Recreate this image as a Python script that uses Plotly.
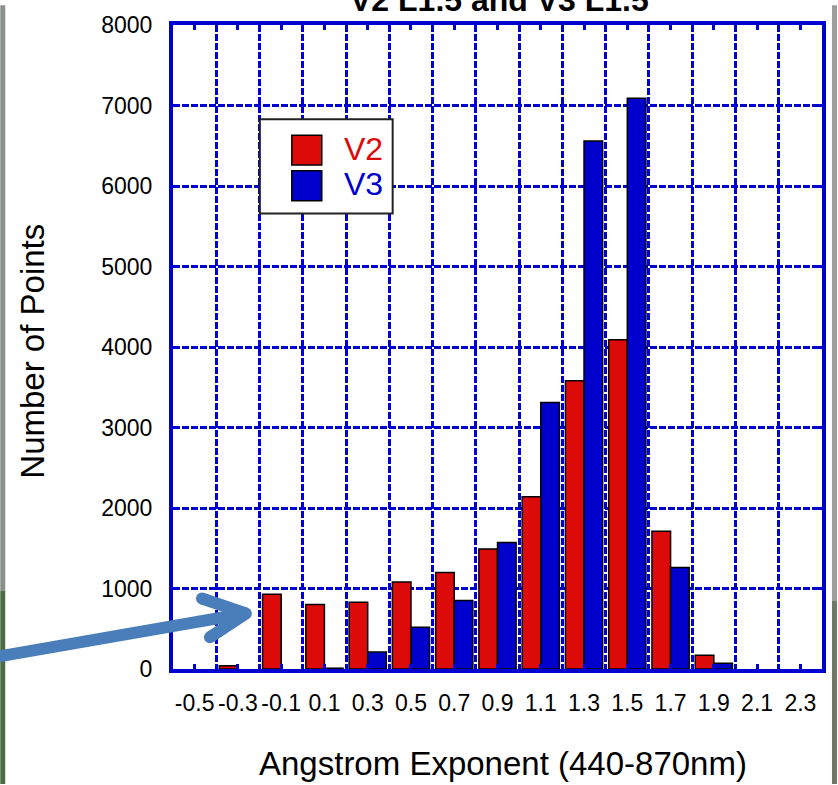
import plotly.graph_objects as go

# Angstrom exponent bins and point counts per version
categories = ["-0.5", "-0.3", "-0.1", "0.1", "0.3", "0.5", "0.7", "0.9",
              "1.1", "1.3", "1.5", "1.7", "1.9", "2.1", "2.3"]
series_names = ["V2", "V3"]
v2_counts = [0, 40, 930, 800, 830, 1080, 1200, 1490, 2140, 3580, 4090, 1710, 170, 0, 0]
v3_counts = [0, 0, 0, 10, 210, 520, 850, 1570, 3310, 6560, 7090, 1260, 70, 0, 0]
y_ticks = [0, 1000, 2000, 3000, 4000, 5000, 6000, 7000, 8000]

W, H = 838, 785
L, R, T, B = 173, 15, 20, 116
PW, PH = W - L - R, H - T - B

BLUE = "#0000d0"
RED = "#dd0a0a"
BARBLUE = "#0000cc"
ARROW = "#4a7ebb"
FONT = "Liberation Sans, Arial, sans-serif"


def px(x):
    return (x - L) / PW


def py(y):
    return (H - B - y) / PH


xs = list(range(len(categories)))

fig = go.Figure()
for name, vals, col in [(series_names[0], v2_counts, RED),
                        (series_names[1], v3_counts, BARBLUE)]:
    # empty bins get no outline so nothing is drawn on the baseline
    edge_w = [1.5 if v > 0 else 0 for v in vals]
    fig.add_trace(go.Bar(
        x=xs, y=vals, name=name,
        marker=dict(color=col, line=dict(color="black", width=edge_w)),
        showlegend=False,
    ))

fig.update_layout(
    width=W, height=H,
    margin=dict(l=L, r=R, t=T, b=B),
    paper_bgcolor="white", plot_bgcolor="white",
    barmode="group", bargap=0.14, bargroupgap=0,
    font=dict(family=FONT, color="black"),
)

fig.update_xaxes(
    range=[-0.5, len(categories) - 0.5],
    tickmode="array", tickvals=xs, ticktext=categories,
    ticks="inside", ticklen=5, tickwidth=3, tickcolor=BLUE,
    tickfont=dict(size=23, family=FONT, color="black"),
    ticklabelstandoff=10,
    showgrid=False, zeroline=False,
    showline=True, linecolor=BLUE, linewidth=4, mirror="ticks",
    minor=dict(tickmode="array", tickvals=[i + 0.5 for i in xs[:-1]],
               showgrid=True, gridcolor=BLUE, gridwidth=3,
               griddash="7px,2px", ticks=""),
)

fig.update_yaxes(
    range=[0, 8000],
    tickmode="array", tickvals=y_ticks, ticktext=[str(v) for v in y_ticks],
    ticks="inside", ticklen=7, tickwidth=3, tickcolor=BLUE,
    tickfont=dict(size=23, family=FONT, color="black"),
    ticklabelstandoff=12,
    showgrid=True, gridcolor=BLUE, gridwidth=3, griddash="7px,2px",
    zeroline=False,
    showline=True, linecolor=BLUE, linewidth=4, mirror="ticks",
)

shapes = []
# image edge strips
shapes += [
    dict(type="rect", xref="paper", yref="paper", x0=px(0), x1=px(5), y0=py(590), y1=py(0),
         fillcolor="#8c908a", line=dict(width=0), layer="above"),
    dict(type="rect", xref="paper", yref="paper", x0=px(0), x1=px(5), y0=py(785), y1=py(590),
         fillcolor="#4d6b45", line=dict(width=0), layer="above"),
    dict(type="rect", xref="paper", yref="paper", x0=px(833), x1=px(838), y0=py(600), y1=py(0),
         fillcolor="#9c9e9a", line=dict(width=0), layer="above"),
    dict(type="rect", xref="paper", yref="paper", x0=px(833), x1=px(838), y0=py(785), y1=py(600),
         fillcolor="#6e7869", line=dict(width=0), layer="above"),
]

# legend box with swatches
shapes += [
    dict(type="rect", xref="paper", yref="paper", x0=px(260), x1=px(393), y0=py(210), y1=py(115),
         fillcolor="white", line=dict(color="#222222", width=2), layer="above"),
    dict(type="rect", xref="paper", yref="paper", x0=px(292), x1=px(322), y0=py(161), y1=py(131),
         fillcolor=RED, line=dict(color="black", width=1.5), layer="above"),
    dict(type="rect", xref="paper", yref="paper", x0=px(292), x1=px(322), y0=py(197), y1=py(167),
         fillcolor=BARBLUE, line=dict(color="black", width=1.5), layer="above"),
]

# pointer arrow
tip = (246, 613)
for (x0, y0) in [(-5, 657), (202, 598), (210, 637)]:
    shapes.append(dict(type="line", xref="paper", yref="paper",
                       x0=px(x0), y0=py(y0), x1=px(tip[0]), y1=py(tip[1]),
                       line=dict(color=ARROW, width=12), layer="above"))
for (cx, cy) in [(202, 598), (210, 637), tip]:
    shapes.append(dict(type="circle", xref="paper", yref="paper",
                       x0=px(cx - 6), x1=px(cx + 6), y0=py(cy + 6), y1=py(cy - 6),
                       fillcolor=ARROW, line=dict(width=0), layer="above"))

annotations = [
    dict(text="<b>V2 L1.5 and V3 L1.5</b>", xref="paper", yref="paper",
         x=px(500), y=py(15), xanchor="center", yanchor="bottom", showarrow=False,
         font=dict(size=32, family=FONT, color="black")),
    dict(text="Angstrom Exponent (440-870nm)", xref="paper", yref="paper",
         x=px(504), y=py(764), xanchor="center", yanchor="middle", showarrow=False,
         font=dict(size=33, family=FONT, color="black")),
    dict(text="Number of Points", xref="paper", yref="paper",
         x=px(32), y=py(349), xanchor="center", yanchor="middle", showarrow=False,
         textangle=-90, font=dict(size=33, family=FONT, color="black")),
    dict(text=series_names[0], xref="paper", yref="paper",
         x=px(342), y=py(145), xanchor="left", yanchor="middle", showarrow=False,
         font=dict(size=32, family=FONT, color=RED)),
    dict(text=series_names[1], xref="paper", yref="paper",
         x=px(342), y=py(180), xanchor="left", yanchor="middle", showarrow=False,
         font=dict(size=32, family=FONT, color=BARBLUE)),
]

fig.update_layout(shapes=shapes, annotations=annotations)
fig.write_html("out.html")
